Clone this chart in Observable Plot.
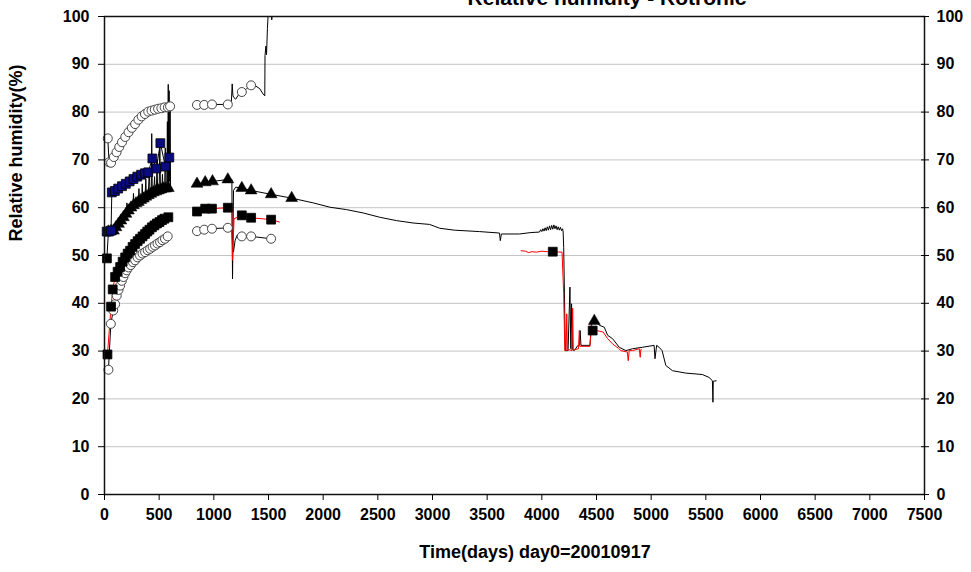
<!DOCTYPE html>
<html><head><meta charset="utf-8">
<script src="https://cdn.jsdelivr.net/npm/d3@7"></script>
<script src="https://cdn.jsdelivr.net/npm/@observablehq/plot@0.6"></script>
<style>body{margin:0;background:#fff}svg{display:block}</style>
</head><body><div id="chart"></div>
<script>
// ---- text ----
const title = "Relative humidity - Rotronic";
const xTitle = "Time(days) day0=20010917";
const yTitle = "Relative humidity(%)";
const xTicks = [0,500,1000,1500,2000,2500,3000,3500,4000,4500,5000,5500,6000,6500,7000,7500];
const yTicks = [0,10,20,30,40,50,60,70,80,90,100];

// ---- upper open circles ----
const upperCirclePre = [[30,74.5],[42,69.5],[60,69.4],[85,70.6],[110,71.6],[135,72.7],[160,73.7],[190,74.8],[220,75.8],[250,76.7],[280,77.5],[310,78.4],[340,79.1],[370,79.6],[400,80.1],[430,80.3],[460,80.5],[490,80.7],[520,80.8],[550,81.0],[580,81.0],[600,81.2]];
const upperCircleMid = [[846,81.5],[912,81.5],[983,81.6],[1128,81.6],[1256,84.2],[1341,85.6]];
const upperLineMid = [[846,81.5],[912,81.5],[983,81.6],[1128,81.6],[1160,81.9],[1168,85.9],[1175,83.4],[1185,83.0],[1200,82.7],[1225,83.6],[1256,84.2],[1300,84.9],[1341,85.6],[1380,85.5],[1420,84.9],[1450,83.8],[1466,83.4],[1468,91.8],[1476,93.8],[1482,92.0],[1490,97.5],[1498,101],[1525,103],[1530,99.3],[1535,103]];

// ---- blue squares ----
const bluePre = [[20,55.0],[40,55.0],[60,55.2],[67,63.2],[95,63.5],[125,64.0],[160,64.5],[195,65.0],[230,65.5],[265,66.0],[300,66.5],[335,66.9],[370,67.2],[400,67.4],[438,70.3],[474,68.2],[511,73.5],[557,68.6],[593,70.5]];

// ---- triangles ----
const triPre = [[22,49.5],[36,55.0],[60,55.1],[82,55.2],[105,55.9],[128,56.6],[150,57.3],[173,58.0],[196,58.7],[219,59.4],[242,60.0],[265,60.5],[288,60.9],[310,61.2],[333,61.6],[356,61.9],[378,62.3],[401,62.6],[424,62.9],[447,63.2],[470,63.4],[493,63.6],[516,63.8],[538,64.0],[561,64.0],[584,64.1]];
const triMid = [[846,65.0],[921,65.3],[988,65.5],[1128,65.9],[1256,64.1],[1341,63.6],[1524,62.8],[1712,62.0],[4480,36.3]];
const triLineMid = [[846,65.0],[921,65.3],[988,65.5],[1128,65.9],[1165,65.9],[1171,45.1],[1180,63.6],[1200,64.3],[1256,64.1],[1341,63.6],[1524,62.8],[1712,62.0],[1910,61.0],[2062,60.1],[2214,59.6],[2366,58.9],[2518,58.0],[2670,57.3],[2822,56.8],[2974,56.5],[3066,55.7],[3200,55.3],[3431,55.0],[3613,54.7],[3620,53.1],[3630,54.5],[3796,54.5],[3900,54.8],[3978,54.9],[3990,55.4],[4000,55.0],[4010,55.6],[4020,55.1],[4030,55.8],[4040,55.2],[4050,56.0],[4060,55.3],[4070,56.2],[4080,55.4],[4090,56.3],[4100,55.5],[4110,56.4],[4120,55.6],[4130,56.2],[4140,55.4],[4150,56.0],[4160,55.3],[4170,55.9],[4180,55.2],[4190,55.6],[4195,54.9],[4200,51.7],[4215,30.1],[4240,30.1],[4257,43.4],[4265,30.5],[4272,39.9],[4280,30.3],[4297,30.1],[4330,31.2],[4343,31.2],[4350,34.3],[4358,31.2],[4440,31.2],[4454,35.7],[4470,36.5],[4485,36.8],[4500,36.4],[4526,35.4],[4571,35.0],[4602,33.3],[4647,32.6],[4708,30.8],[4769,30.1],[4830,30.5],[4921,30.8],[5027,31.2],[5035,28.4],[5050,31.2],[5073,30.8],[5100,30.1],[5134,27.0],[5195,25.9],[5316,25.4],[5468,25.1],[5529,24.5],[5560,23.8],[5565,19.3],[5568,23.7],[5595,23.8]];

// ---- spikes (raw readings) ----
const spikes = [[200,58.5],[205,61],[210,58.8],[260,60.2],[265,63],[270,60.4],[310,61.1],[315,64],[320,61.3],[340,61.5],[345,65],[350,61.7],[370,61.9],[378,66],[384,62.0],[400,62.4],[410,68],[416,62.6],[428,63],[432,75.5],[437,62.9],[450,63.2],[458,66.5],[463,63.1],[475,63.4],[480,70],[486,63.4],[500,63.7],[506,73.5],[512,63.8],[525,64],[530,67],[535,64],[550,64.1],[556,72.5],[562,64.2],[570,64.3],[575,78],[579,64.5],[583,85.8],[587,65],[591,84.5],[595,65.5],[600,81],[604,64.5]];

// ---- black squares (red line) ----
const sqPre = [[27,29.3],[60,39.3],[75,42.9],[97,45.5],[120,46.6],[143,47.6],[166,48.7],[189,49.6],[212,50.4],[234,51.0],[257,51.8],[280,52.4],[303,53.0],[325,53.5],[348,54.0],[371,54.5],[391,55.0],[411,55.4],[434,55.9],[457,56.3],[480,56.7],[503,57.0],[526,57.4],[548,57.7],[584,58.0]];
const sqMid = [[22,49.4],[846,59.2],[921,59.8],[983,59.8],[1128,60.0],[1256,58.4],[1341,57.9],[1524,57.5],[4100,50.8],[4465,34.3]];
const redMid = [[846,59.2],[921,59.8],[983,59.8],[1128,60.0],[1165,60.0],[1170,49.0],[1176,52],[1185,57.7],[1256,58.4],[1341,57.9],[1524,57.5],[1600,57.0]];
const redLate = [[3811,51.0],[3850,50.9],[3880,50.6],[3910,50.8],[3950,50.7],[4000,50.9],[4050,50.8],[4100,50.8],[4185,50.7],[4200,42],[4210,30.1],[4222,30.1],[4228,37.8],[4234,30.1],[4250,30.3],[4275,30.1],[4282,39.0],[4288,30.1],[4300,30.3],[4335,30.5],[4343,34.3],[4348,31.0],[4440,31.0],[4454,35.5],[4465,34.3],[4500,34.3],[4560,34.0],[4602,32.6],[4647,31.5],[4700,30.6],[4723,30.1],[4782,29.8],[4790,28.0],[4799,30.1],[4830,30.1],[4891,30.5],[4900,28.7],[4905,30.3],[4910,30.3]];

// ---- lower open circles ----
const lowPre = [[36,26.1],[58,35.7],[80,38.5],[97,39.8],[112,41.6],[128,42.8],[143,43.7],[158,44.7],[173,45.5],[188,46.3],[203,46.9],[220,47.5],[240,48.0],[260,48.6],[280,49.0],[303,49.6],[325,50.0],[348,50.4],[371,50.7],[395,51.1],[417,51.4],[440,51.8],[462,52.1],[485,52.5],[508,52.8],[530,53.2],[553,53.5],[578,54.0]];
const lowMid = [[846,55.1],[912,55.4],[983,55.6],[1128,55.8],[1256,54.0],[1341,54.0],[1524,53.5]];
const lowLineMid = [[846,55.1],[912,55.4],[983,55.6],[1128,55.8],[1165,55.8],[1172,51.5],[1180,50.8],[1195,53.2],[1215,54.3],[1256,54.0],[1341,54.0],[1524,53.5]];

const P = a => a.map(([d, v]) => ({d, v}));
const L = (a, stroke) => Plot.line(P(a), {x: "d", y: "v", stroke, strokeWidth: 1, clip: "frame"});
const circ = a => Plot.dot(P(a), {x: "d", y: "v", r: 4.5, symbol: "circle", fill: "white", stroke: "#444", strokeWidth: 1});
const sq = (a, fill) => Plot.dot(P(a), {x: "d", y: "v", r: 5, symbol: "square", fill, stroke: "black", strokeWidth: 0.8});
const tri = a => Plot.dot(P(a), {x: "d", y: "v", r: 4.4, symbol: "triangle", fill: "black", stroke: "black", strokeWidth: 0.5});

const plot = Plot.plot({
  width: 971, height: 572,
  marginLeft: 104, marginRight: 47, marginTop: 16, marginBottom: 78,
  x: {domain: [0, 7500]},
  y: {domain: [0, 100]},
  style: {fontFamily: "'Liberation Sans', Arial, sans-serif", fontSize: "16px", fontWeight: "bold", background: "white", color: "black", overflow: "visible"},
  marks: [
    Plot.gridY(yTicks.filter(t => t > 0 && t < 100), {stroke: "#c4c4c4", strokeOpacity: 1, strokeWidth: 1}),
    L(upperCirclePre, "black"), L(upperLineMid, "black"),
    L(bluePre, "black"),
    L(triPre, "black"), L(triLineMid, "black"),
    L(lowPre, "black"), L(lowLineMid, "black"),
    L(sqPre, "red"), L(redMid, "red"), L(redLate, "red"),
    L(spikes, "black"),
    circ(lowPre), circ(lowMid),
    sq(sqPre, "black"), sq(sqMid, "black"),
    tri(triPre.slice(1)), tri(triMid),
    sq(bluePre, "#0b0b80"),
    circ(upperCirclePre), circ(upperCircleMid),
    Plot.frame({stroke: "#111", strokeWidth: 1.5}),
    Plot.axisX(xTicks, {tickSize: 6, tickPadding: 8, tickFormat: d => String(d), label: null}),
    Plot.axisY(yTicks, {anchor: "left", tickSize: 6, tickPadding: 9, label: null}),
    Plot.axisY(yTicks, {anchor: "right", tickSize: 4, tickPadding: 8, label: null}),
    Plot.axisY(yTicks, {anchor: "right", tickSize: -4, tickFormat: () => "", label: null})
  ]
});
document.getElementById("chart").append(plot);

const svg = d3.select(plot);
svg.append("text").attr("x", 607).attr("y", 5).attr("text-anchor", "middle")
  .style("font-size", "21px").style("font-weight", "bold").text(title);
svg.append("text").attr("x", 535).attr("y", 558).attr("text-anchor", "middle")
  .style("font-size", "18px").style("font-weight", "bold").text(xTitle);
svg.append("text").attr("transform", "translate(22,153) rotate(-90)").attr("text-anchor", "middle")
  .style("font-size", "18px").style("font-weight", "bold").text(yTitle);
</script></body></html>
